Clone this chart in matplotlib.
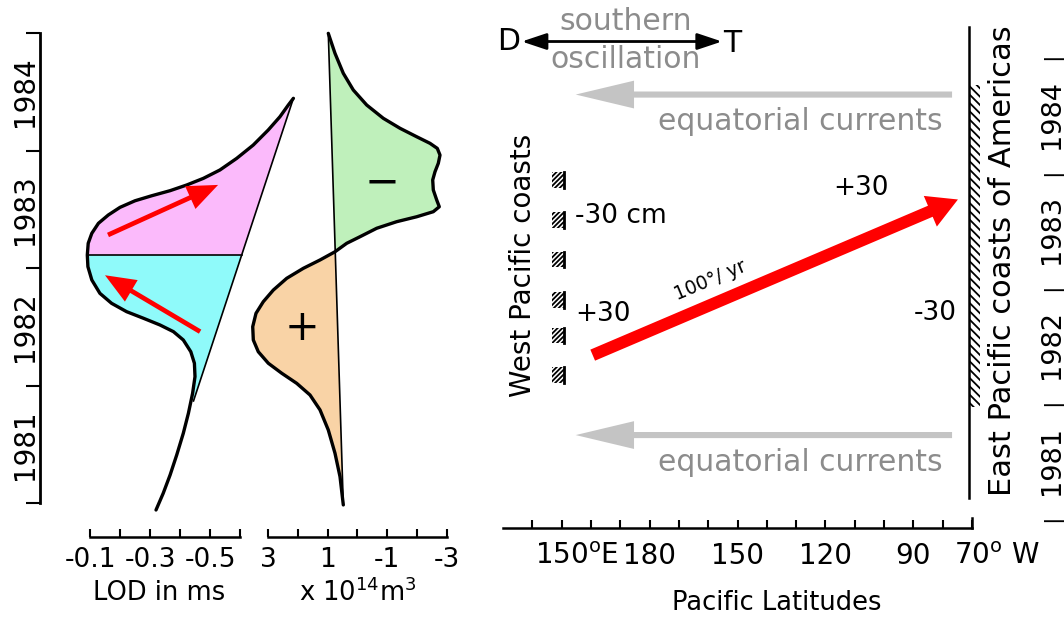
import numpy as np
import matplotlib.pyplot as plt

plt.rcParams['font.family'] = ['DejaVu Sans']
plt.rcParams['mathtext.fontset'] = 'dejavusans'
plt.rcParams['hatch.linewidth'] = 1.3

# ---- values ----
# length of day anomaly (ms) against time
lod_years = np.array([1980.942, 1981.084, 1981.240, 1981.410, 1981.595, 1981.765, 1981.935,
                      1982.077, 1982.191, 1982.289, 1982.389, 1982.460, 1982.517, 1982.574,
                      1982.630, 1982.701, 1982.786, 1982.900, 1983.013, 1983.112, 1983.212,
                      1983.297, 1983.382, 1983.453, 1983.518, 1983.574, 1983.617, 1983.660,
                      1983.708, 1983.765, 1983.836, 1983.935, 1984.048, 1984.176, 1984.289,
                      1984.389, 1984.446])
lod_ms = np.array([-0.320, -0.344, -0.367, -0.389, -0.411, -0.428, -0.442,
                   -0.450, -0.448, -0.436, -0.411, -0.378, -0.333, -0.278,
                   -0.222, -0.172, -0.133, -0.106, -0.093, -0.091, -0.094,
                   -0.106, -0.128, -0.161, -0.200, -0.250, -0.306, -0.367,
                   -0.422, -0.478, -0.533, -0.589, -0.644, -0.694, -0.733,
                   -0.761, -0.778])
lod_line_years = np.array([1981.87, 1984.446])
lod_line_ms = np.array([-0.445, -0.778])
lod_split_year = 1983.112
# red arrows (start, end) inside the LOD lobe
lod_arrows = [((-0.160, 1983.283), (-0.527, 1983.709)),
              ((-0.467, 1982.460), (-0.150, 1982.940))]

# ocean volume anomaly (x 1e14 m^3) against time
vol_years = np.array([1984.999, 1984.829, 1984.659, 1984.517, 1984.389, 1984.276, 1984.191,
                      1984.119, 1984.063, 1984.020, 1983.963, 1983.893, 1983.821, 1983.751,
                      1983.666, 1983.581, 1983.523, 1983.481, 1983.438, 1983.396, 1983.340,
                      1983.268, 1983.212, 1983.140, 1983.070, 1982.999, 1982.914, 1982.814,
                      1982.715, 1982.616, 1982.502, 1982.389, 1982.289, 1982.191, 1982.106,
                      1982.020, 1981.921, 1981.794, 1981.623, 1981.425, 1981.226, 1980.985])
vol_values = np.array([0.977, 0.752, 0.473, 0.138, -0.312, -0.869, -1.430,
                       -1.990, -2.436, -2.681, -2.772, -2.715, -2.604, -2.527,
                       -2.547, -2.661, -2.748, -2.547, -1.990, -1.319, -0.648,
                       -0.087, 0.359, 0.752, 1.255, 1.815, 2.372, 2.822,
                       3.158, 3.403, 3.513, 3.493, 3.326, 2.990, 2.540,
                       2.037, 1.591, 1.255, 0.977, 0.752, 0.584, 0.473])
vol_line_years = np.array([1980.985, 1984.999])
vol_line_values = np.array([0.473, 0.977])
vol_cross_year = 1983.140
vol_signs = [('\u2212', -0.83, 1983.73), ('+', 1.86, 1982.49)]

lod_ticks = [-0.1, -0.2, -0.3, -0.4, -0.5, -0.6]
lod_ticklabels = ['-0.1', '', '-0.3', '', '-0.5', '']
vol_ticks = [3, 2, 1, 0, -1, -2, -3]
vol_ticklabels = ['3', '', '1', '', '-1', '', '-3']
years = [1981, 1982, 1983, 1984]

# Pacific map panel (longitude in degrees east, time in years)
lon_ticks = np.arange(140, 291, 10)
lon_label_pos = [150, 180, 210, 240, 270, 290]
lon_numbers = ['150', '180', '150', '120', '90', '70']
lon_suffix = ['$^{\\rm o}$E', '', '', '', '', '$^{\\rm o}$ W']

east_coast_lon = 289
east_coast_years = [1981.17, 1985.26]
east_hatch_years = [1981.96, 1984.75]
west_coast_lon = 150.75
west_hatch_years = [1983.93, 1983.58, 1983.24, 1982.89, 1982.58, 1982.24]

wave_start = (160.6, 1982.41)
wave_end = (285.2, 1983.76)
sea_level_labels = [('-30 cm', 154.5, 1983.617, 'left'),
                    ('+30', 154.5, 1982.766, 'left'),
                    ('+30', 252.1, 1983.860, 'center'),
                    ('-30', 284.9, 1982.775, 'right')]

current_years = [1984.67, 1981.717]
current_text_years = [1984.44, 1981.48]
current_lons = (283.2, 154.8)
so_lons = (136.4, 204.7)
so_year = 1985.13

RED = '#ff0000'
GRAY_TXT = '#8c8c8c'

W, H = 1064, 617
fig = plt.figure(figsize=(W / 100, H / 100), dpi=100)


def box(x0, x1, y_top, y_bot):
    return [x0 / W, 1 - y_bot / H, (x1 - x0) / W, (y_bot - y_top) / H]


ax_lod = fig.add_axes(box(40, 300, 0, 537))
ax_vol = fig.add_axes(box(245, 460, 0, 537))
ax_map = fig.add_axes(box(503, 972, 0, 528))
for ax in (ax_lod, ax_vol, ax_map):
    ax.patch.set_visible(False)
    for s in ax.spines.values():
        s.set_visible(False)

# ---------------- LOD panel ----------------
ax_lod.set_xlim(0.0667, -0.8)
ax_lod.set_ylim(1980.712, 1985.283)

line_at_split = np.interp(lod_split_year, lod_line_years, lod_line_ms)
curve_at_split = np.interp(lod_split_year, lod_years, lod_ms)
upper = lod_years >= lod_split_year
lower = (lod_years >= lod_line_years[0]) & (lod_years <= lod_split_year)
ax_lod.fill(np.r_[lod_ms[upper], line_at_split],
            np.r_[lod_years[upper], lod_split_year], color='#fbbafb', lw=0)
ax_lod.fill(np.r_[lod_ms[lower], line_at_split, lod_line_ms[0]],
            np.r_[lod_years[lower], lod_split_year, lod_line_years[0]], color='#8ffafa', lw=0)
ax_lod.plot(lod_line_ms, lod_line_years, color='k', lw=1.2)
ax_lod.plot([curve_at_split, line_at_split], [lod_split_year, lod_split_year], color='k', lw=1.2)
ax_lod.plot(lod_ms, lod_years, color='k', lw=2.4, solid_joinstyle='round', solid_capstyle='round')

for start, end in lod_arrows:
    ax_lod.annotate('', xy=end, xytext=start,
                    arrowprops=dict(arrowstyle='simple,head_length=1.1,head_width=0.9,tail_width=0.17',
                                    fc=RED, ec='none', shrinkA=0, shrinkB=0, mutation_scale=20))

ax_lod.spines['left'].set_visible(True)
ax_lod.spines['left'].set_bounds(1981, 1985)
ax_lod.spines['left'].set_linewidth(2)
ax_lod.spines['bottom'].set_visible(True)
ax_lod.spines['bottom'].set_bounds(-0.1, -0.6)
ax_lod.spines['bottom'].set_linewidth(1.8)
ax_lod.set_yticks([1981, 1982, 1983, 1984, 1985], labels=[])
ax_lod.tick_params(axis='y', direction='out', length=10, width=1.5)
ax_lod.set_xticks(lod_ticks, labels=lod_ticklabels)
ax_lod.tick_params(axis='x', direction='in', length=6, width=1.5, labelsize=19, pad=7)
for yr in years:
    ax_lod.text(-15 / 260, yr + 0.5, str(yr), transform=ax_lod.get_yaxis_transform(),
                rotation=90, ha='center', va='center', fontsize=20)
ax_lod.annotate('LOD in ms', xy=(-0.33, 0), xycoords=ax_lod.get_xaxis_transform(),
                xytext=(0, -40), textcoords='offset points', ha='center', va='center', fontsize=18.5)

# ---------------- ocean volume panel ----------------
ax_vol.set_xlim(3.772, -3.443)
ax_vol.set_ylim(1980.712, 1985.283)
above = vol_years >= vol_cross_year
below = vol_years <= vol_cross_year
ax_vol.fill(vol_values[above], vol_years[above], color='#bff0bb', lw=0)
ax_vol.fill(vol_values[below], vol_years[below], color='#f9d3a6', lw=0)
ax_vol.plot(vol_line_values, vol_line_years, color='k', lw=1.2)
ax_vol.plot(vol_values, vol_years, color='k', lw=2.4, solid_joinstyle='round', solid_capstyle='round')
for sign, v, yr in vol_signs:
    ax_vol.text(v, yr, sign, fontsize=30, ha='center', va='center')

ax_vol.spines['bottom'].set_visible(True)
ax_vol.spines['bottom'].set_bounds(3, -3)
ax_vol.spines['bottom'].set_linewidth(1.8)
ax_vol.set_yticks([])
ax_vol.set_xticks(vol_ticks, labels=vol_ticklabels)
ax_vol.tick_params(axis='x', direction='in', length=6, width=1.5, labelsize=19, pad=7)
ax_vol.annotate('x 10$^{14}$m$^3$', xy=(0, 0), xycoords=ax_vol.get_xaxis_transform(),
                xytext=(0, -40), textcoords='offset points', ha='center', va='center', fontsize=18.5)

# ---------------- Pacific panel ----------------
ax_map.set_xlim(130, 290)
ax_map.set_ylim(1980.911, 1985.490)
ax_map.spines['bottom'].set_visible(True)
ax_map.spines['bottom'].set_linewidth(1.8)
ax_map.spines['right'].set_visible(True)
ax_map.spines['right'].set_bounds(1980.911, 1981.0)
ax_map.spines['right'].set_linewidth(1.8)
ax_map.set_yticks([])
ax_map.set_xticks(lon_ticks)
ax_map.tick_params(axis='x', direction='in', length=6, width=1.5, labelbottom=False)

xt = ax_map.get_xaxis_transform()
for lon, num, suf in zip(lon_label_pos, lon_numbers, lon_suffix):
    half = len(num) * 0.636 * 20 / 2
    ax_map.annotate(num + suf, xy=(lon, 0), xycoords=xt, xytext=(-half, -20),
                    textcoords='offset points', ha='left', va='center', fontsize=20)
ax_map.annotate('Pacific Latitudes', xy=(223.4, 0), xycoords=xt, xytext=(0, -54),
                textcoords='offset points', ha='center', va='center', fontsize=18.5)

# coasts
ax_map.plot([east_coast_lon, east_coast_lon], east_coast_years, color='k', lw=1.8, clip_on=False)
ax_map.fill_betweenx(east_hatch_years, east_coast_lon, east_coast_lon + 3.6, facecolor='none',
                     edgecolor='k', hatch='\\' * 4, lw=0, clip_on=False)
for yr in west_hatch_years:
    ax_map.fill_betweenx([yr - 0.068, yr + 0.068], west_coast_lon - 4.1, west_coast_lon,
                         facecolor='none', edgecolor='k', hatch='/' * 7, lw=0)
    ax_map.plot([west_coast_lon, west_coast_lon], [yr - 0.068, yr + 0.068], color='k', lw=2.0)

# sea level wave crossing the Pacific
ax_map.annotate('', xy=wave_end, xytext=wave_start,
                arrowprops=dict(arrowstyle='simple,head_length=0.9,head_width=1.0,tail_width=0.36',
                                fc=RED, ec='none', shrinkA=0, shrinkB=0, mutation_scale=24))
ax_map.text(200.6, 1983.06, '100\u00b0/ yr', rotation=23, fontsize=13.5, ha='center', va='center')
for txt, lon, yr, ha in sea_level_labels:
    ax_map.text(lon, yr, txt, fontsize=19, ha=ha, va='center')

# equatorial currents
for yr, tyr in zip(current_years, current_text_years):
    ax_map.annotate('', xy=(current_lons[1], yr), xytext=(current_lons[0], yr),
                    arrowprops=dict(arrowstyle='simple,head_length=2.1,head_width=1.0,tail_width=0.22',
                                    fc='#c4c4c4', ec='none', shrinkA=0, shrinkB=0, mutation_scale=20))
    ax_map.text(280.1, tyr, 'equatorial currents', color=GRAY_TXT, fontsize=21.5,
                ha='right', va='center')

# southern oscillation
ax_map.annotate('', xy=(so_lons[0], so_year), xytext=(so_lons[1], so_year),
                arrowprops=dict(arrowstyle='<|-|>,head_length=0.6,head_width=0.2', color='k',
                                lw=2, shrinkA=0, shrinkB=0, mutation_scale=25))
ax_map.text(so_lons[0] - 0.5, so_year, 'D', fontsize=21.5, ha='right', va='center')
ax_map.text(so_lons[1] + 0.3, so_year - 0.02, 'T', fontsize=21.5, ha='left', va='center')
ax_map.text(171.7, 1985.30, 'southern', color=GRAY_TXT, fontsize=21.5, ha='center', va='center')
ax_map.text(171.9, 1984.97, 'oscillation', color=GRAY_TXT, fontsize=21.5, ha='center', va='center')

ax_map.text(136.8, 1983.19, 'West Pacific coasts', rotation=90, fontsize=20, ha='center', va='center')
yt = ax_map.get_yaxis_transform()
ax_map.text(1.064, 1983.226, 'East Pacific coasts of Americas', transform=yt, rotation=90,
            fontsize=22, ha='center', va='center')
for yr in years:
    ax_map.text(1.1706, yr + 0.5, str(yr), transform=yt, rotation=90, ha='center', va='center',
                fontsize=19.5, family=['Liberation Sans Narrow', 'DejaVu Sans'])
for yr in years + [1985]:
    ax_map.text(1.1706, yr, '|', transform=yt, rotation=90, ha='center', va='center', fontsize=16)

fig.savefig('out.png', dpi=100)
